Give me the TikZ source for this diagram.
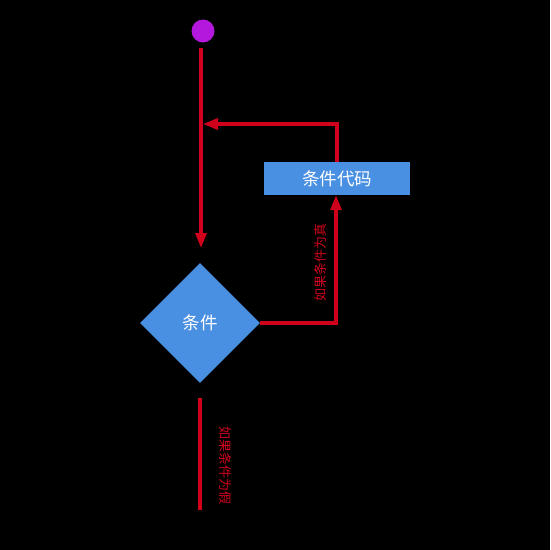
\documentclass[tikz,border=0pt]{standalone}
\usepackage{fontspec}
\newfontfamily\cjk{Noto Sans CJK SC}
\usetikzlibrary{shapes.geometric,arrows.meta}
\definecolor{flowred}{HTML}{D0021B}
\definecolor{boxblue}{HTML}{4A90E2}
\definecolor{startpurple}{HTML}{B418DC}
\tikzset{
  conn/.style={draw=flowred,line width=3.2pt},
  arr/.style={conn,-{Triangle[length=15pt,width=11pt]}},
  lbl/.style={text=flowred,font=\cjk\fontsize{13}{15}\selectfont,inner sep=0pt},
}
\begin{document}
\begin{tikzpicture}[x=1pt,y=-1pt]
\fill[black] (0,0) rectangle (550,550);
\useasboundingbox (0,0) rectangle (550,550);
\node[circle,fill=startpurple,minimum size=23pt,inner sep=0pt] (start) at (203,31) {};
\node[diamond,fill=boxblue,minimum width=120pt,minimum height=120pt,inner sep=0pt,text=white,font=\cjk\fontsize{17.5}{20}\selectfont] (cond) at (200,323) {条件};
\node[rectangle,fill=boxblue,minimum width=146pt,minimum height=33pt,inner sep=0pt,text=white,font=\cjk\fontsize{17.5}{20}\selectfont] (code) at (337,178.5) {条件代码};
\coordinate (s1) at (201,48);
\coordinate (s2) at (201,248);
\coordinate (loop) at (203,124);
\coordinate (corner) at (337,124);
\coordinate (rcorner) at (336,323);
\coordinate (endp) at (200,510);
\coordinate (cb) at (200,398);
\draw[arr] (s1) -- (s2);
\draw[arr] (code.north) -- (corner) -- (loop);
\draw[arr] (cond.east) -- (rcorner) -- (code.south -| rcorner);
\draw[conn] (cb) -- (endp);
\node[lbl,rotate=90] (t1) at (321,262) {如果条件为真};
\node[lbl,rotate=-90] (t2) at (225,465) {如果条件为假};
\end{tikzpicture}
\end{document}
